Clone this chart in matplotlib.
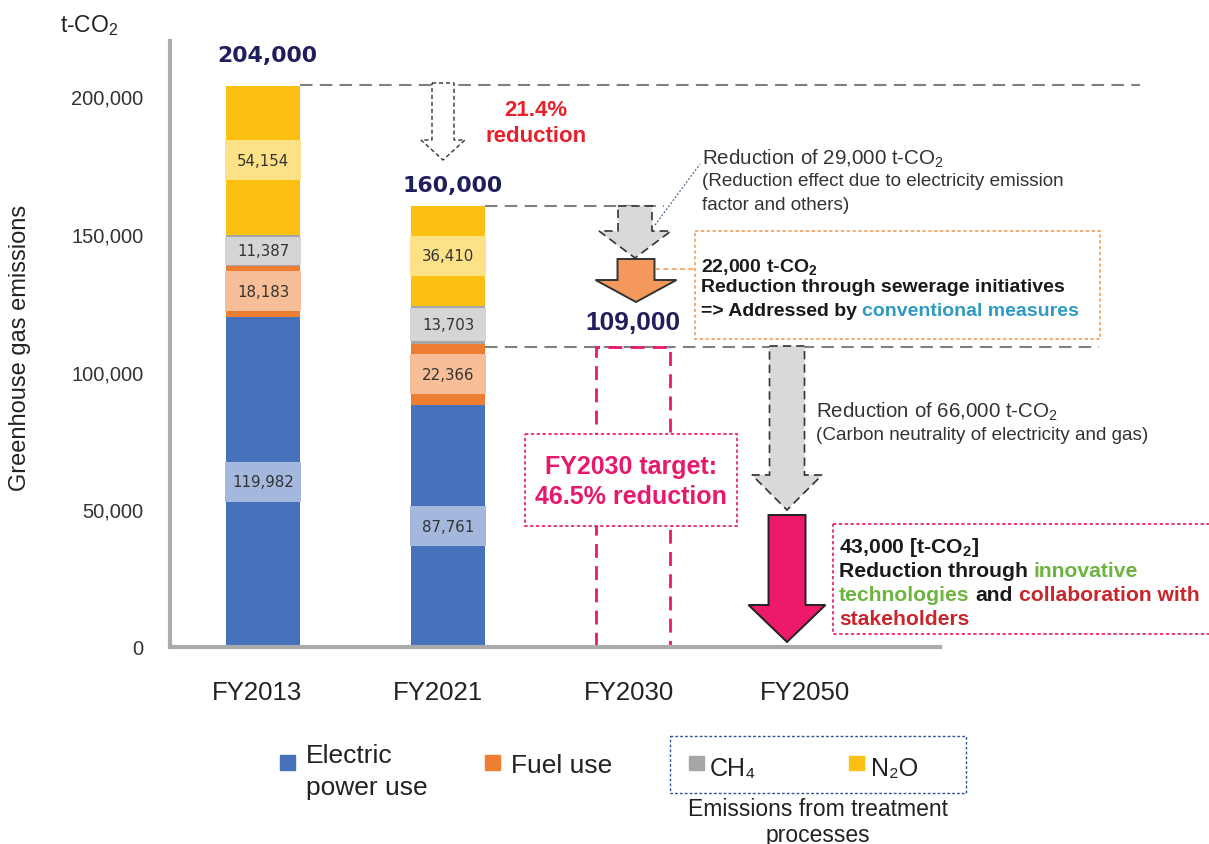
import numpy as np
import matplotlib.pyplot as plt
import matplotlib.transforms as mtransforms
from matplotlib.patches import Polygon, Rectangle

plt.rcParams['font.family'] = ['Liberation Sans', 'DejaVu Sans']
plt.rcParams['mathtext.fontset'] = 'custom'
plt.rcParams['mathtext.rm'] = 'Liberation Sans'
plt.rcParams['mathtext.bf'] = 'Liberation Sans:bold'

# data
years = ['FY2013', 'FY2021', 'FY2030', 'FY2050']
electric = [119982, 87761]
fuel = [18183, 22366]
ch4 = [11387, 13703]
n2o = [54154, 36410]
totals = [204000, 160000, 109000]
yticks = [0, 50000, 100000, 150000, 200000]

W, H = 1209, 845
fig = plt.figure(figsize=(W / 100, H / 100), dpi=100)
ax = fig.add_axes([170 / W, (H - 648) / H, (W - 170) / W, 606 / H])
ax.set_xlim(-0.5027, 5.1135)
ax.set_ylim(0, 220000)

# pixel coords (y from top) for the overlay drawings
px = mtransforms.Affine2D().scale(1 / W, -1 / H).translate(0, 1) + fig.transFigure

colors = ['#4672BC', '#EE7E32', '#A6A6A6', '#FCC012']
light = ['#A4B8DE', '#F7BE97', '#D5D5D5', '#FCE186']
x = np.arange(2)
bottom = np.zeros(2)
for vals, c, lc in zip([electric, fuel, ch4, n2o], colors, light):
    ax.bar(x, vals, bottom=bottom, width=0.4, color=c, zorder=2)
    for xi, v, b in zip(x, vals, bottom):
        h = min(v * 0.88, 14500)
        ax.add_patch(Rectangle((xi - 0.206, b + v / 2 - h / 2), 0.412, h,
                               facecolor=lc, edgecolor='none', zorder=3))
        ax.text(xi, b + v / 2, f'{v:,}', ha='center', va='center', fontsize=10.8,
                family='DejaVu Sans', color='#333333', zorder=4)
    bottom += vals

# FY2030 target outline
ax.bar(2, totals[2], width=0.4, fill=False, edgecolor='#E8186C', linewidth=2,
       linestyle=(0, (5, 3)), zorder=2)

# level lines
dash = dict(color='#808080', lw=1.5, linestyle=(0, (6, 3.5)), zorder=1)
ax.plot([0.2, 4.74], [totals[0]] * 2, **dash)
ax.plot([1.2, 2.17], [totals[1]] * 2, **dash)
ax.plot([1.2, 4.52], [totals[2]] * 2, **dash)

navy = '#1F1F5E'
ax.annotate(f'{totals[0]:,}', (0, totals[0]), xytext=(3, 21.5), textcoords='offset points',
            ha='center', va='center', fontsize=15.8, fontweight='bold', color=navy,
            family='DejaVu Sans')
ax.annotate(f'{totals[1]:,}', (1, totals[1]), xytext=(3, 15), textcoords='offset points',
            ha='center', va='center', fontsize=15.8, fontweight='bold', color=navy,
            family='DejaVu Sans')
ax.annotate(f'{totals[2]:,}', (2, totals[2]), xytext=(0, 18), textcoords='offset points',
            ha='center', va='center', fontsize=19, fontweight='bold', color=navy)

# axes styling
for s in ['top', 'right']:
    ax.spines[s].set_visible(False)
for s in ['left', 'bottom']:
    ax.spines[s].set_color('#ABABAB')
    ax.spines[s].set_linewidth(3)
ax.spines['bottom'].set_bounds(-0.5027, 3.66)
ax.set_yticks(yticks, labels=[f'{v:,}' for v in yticks])
ax.set_xticks([-0.035, 0.943, 1.978, 2.93], labels=years)
ax.tick_params(axis='y', length=0, pad=19, labelsize=14.5, labelcolor='#333333')
ax.tick_params(axis='x', length=0, pad=24, labelsize=18.5, labelcolor='#222222')

fig.text(20, 348, 'Greenhouse gas emissions', transform=px, rotation=90,
         ha='center', va='center', fontsize=17, color='#222222')
fig.text(89, 26, 't-CO$_2$', transform=px, ha='center', va='center', fontsize=16.5,
         color='#222222')


def arrow(xc, top, neck, tip, sw, hw, **kw):
    pts = [(xc - sw / 2, top), (xc + sw / 2, top), (xc + sw / 2, neck), (xc + hw / 2, neck),
           (xc, tip), (xc - hw / 2, neck), (xc - sw / 2, neck)]
    fig.add_artist(Polygon(pts, closed=True, transform=px, **kw))


arrow(443, 84, 141, 161, 22, 44, facecolor='white', edgecolor='#333333', lw=1,
      linestyle=(0, (3, 2)))
arrow(635, 207, 232, 259, 34, 72, facecolor='#D9D9D9', edgecolor='#333333', lw=1.2,
      linestyle=(0, (5, 3)))
arrow(636, 260, 281, 303, 37, 81, facecolor='#F4995B', edgecolor='#333333', lw=1.4)
arrow(787, 347, 476, 511, 35, 70, facecolor='#D9D9D9', edgecolor='#333333', lw=1.2,
      linestyle=(0, (5, 3)))
arrow(787, 516, 606, 643, 37, 77, facecolor='#EC1A68', edgecolor='#222222', lw=1.4)

red = '#E8202A'
fig.text(536, 110, '21.4%', transform=px, ha='center', va='center', fontsize=16,
         fontweight='bold', color=red)
fig.text(536, 136, 'reduction', transform=px, ha='center', va='center', fontsize=16,
         fontweight='bold', color=red)

grey_txt = '#333333'
fig.text(702, 159, 'Reduction of 29,000 t-CO$_2$', transform=px, va='center',
         fontsize=14.8, color=grey_txt)
fig.text(702, 182, '(Reduction effect due to electricity emission', transform=px,
         va='center', fontsize=13.6, color=grey_txt)
fig.text(702, 205, 'factor and others)', transform=px, va='center', fontsize=13.6,
         color=grey_txt)
fig.add_artist(plt.Line2D([655, 700], [226, 165], transform=px, color='#4A6A8A', lw=0.9,
                          linestyle=(0, (1.5, 1.5))))

fig.text(816, 412, 'Reduction of 66,000 t-CO$_2$', transform=px, va='center',
         fontsize=14.8, color=grey_txt)
fig.text(816, 436, '(Carbon neutrality of electricity and gas)', transform=px,
         va='center', fontsize=13.6, color=grey_txt)

# orange box
orange = '#F4A05A'
fig.add_artist(Rectangle((695, 232), 405, 108, transform=px, fill=False,
                         edgecolor=orange, lw=1.2, linestyle=(0, (2, 1.5))))
fig.add_artist(plt.Line2D([655, 695], [270, 270], transform=px, color=orange, lw=1.2,
                          linestyle=(0, (3, 2))))

renderer = fig.canvas.get_renderer()


def rich(x0, y0, parts, **kw):
    probe1 = fig.text(0, 0, 'a a', **kw)
    probe2 = fig.text(0, 0, 'aa', **kw)
    sp = (probe1.get_window_extent(renderer).width
          - probe2.get_window_extent(renderer).width)
    probe1.remove()
    probe2.remove()
    xx = x0
    for s, c in parts:
        lead = len(s) - len(s.lstrip(' '))
        trail = len(s) - len(s.rstrip(' '))
        xx += lead * sp
        t = fig.text(xx, y0, s.strip(' '), color=c, transform=px, va='center', **kw)
        xx += t.get_window_extent(renderer).width + trail * sp


dark = '#1A1A1A'
bold = dict(fontsize=14, fontweight='bold')
rich(701, 268, [(r'22,000 t-CO$_\mathbf{2}$', dark)], **bold)
rich(701, 288, [('Reduction through sewerage initiatives', dark)], **bold)
rich(701, 312, [('=> Addressed by ', dark), ('conventional measures', '#2E9AC4')], **bold)

# FY2030 target box
pink = '#E8186C'
fig.add_artist(Rectangle((525, 435), 212, 92, transform=px, facecolor='white',
                         edgecolor=pink, lw=1.2, linestyle=(0, (2, 1.5))))
fig.text(631, 467, 'FY2030 target:', transform=px, ha='center', va='center',
         fontsize=18, fontweight='bold', color=pink)
fig.text(631, 497, '46.5% reduction', transform=px, ha='center', va='center',
         fontsize=18, fontweight='bold', color=pink)

# 2050 box
green = '#6DB33F'
crimson = '#C9252C'
bold2 = dict(fontsize=15.2, fontweight='bold')
fig.add_artist(Rectangle((833, 525), 380, 110, transform=px, fill=False,
                         edgecolor=pink, lw=1.2, linestyle=(0, (2, 1.5))))
rich(839, 548, [(r'43,000 [t-CO$_\mathbf{2}$]', dark)], **bold2)
rich(839, 572, [('Reduction through ', dark), ('innovative', green)], **bold2)
rich(839, 596, [('technologies', green), (' and ', dark), ('collaboration with', crimson)],
     **bold2)
rich(839, 620, [('stakeholders', crimson)], **bold2)

# legend
leg_txt = '#222222'
fig.add_artist(Rectangle((280, 756), 15, 15, transform=px, color=colors[0]))
fig.text(306, 763, 'Electric', transform=px, va='baseline', fontsize=19, color=leg_txt)
fig.text(306, 795, 'power use', transform=px, va='baseline', fontsize=19, color=leg_txt)
fig.add_artist(Rectangle((485, 756), 15, 15, transform=px, color=colors[1]))
fig.text(511, 773, 'Fuel use', transform=px, va='baseline', fontsize=19, color=leg_txt)
fig.add_artist(Rectangle((670, 737), 296, 57, transform=px, fill=False,
                         edgecolor='#2F5597', lw=1, linestyle=(0, (2, 1.5))))
fig.add_artist(Rectangle((689, 757), 15, 14, transform=px, color=colors[2]))
fig.text(710, 776, 'CH₄', transform=px, va='baseline', fontsize=18, color=leg_txt)
fig.add_artist(Rectangle((849, 757), 15, 14, transform=px, color=colors[3]))
fig.text(871, 776, 'N₂O', transform=px, va='baseline', fontsize=18, color=leg_txt)
fig.text(818, 816, 'Emissions from treatment', transform=px, ha='center', va='baseline',
         fontsize=16.5, color=leg_txt)
fig.text(818, 842, 'processes', transform=px, ha='center', va='baseline', fontsize=16.5,
         color=leg_txt)

fig.savefig('out.png', dpi=100)
